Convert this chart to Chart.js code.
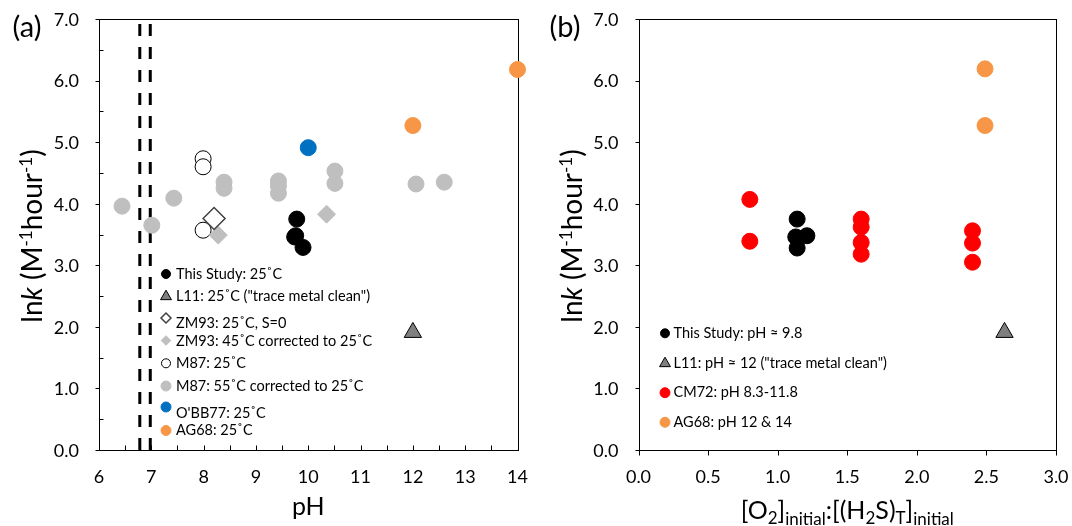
<!DOCTYPE html>
<html>
<head>
<meta charset="utf-8">
<title>lnk vs pH and O2:H2S</title>
<script src="https://cdn.jsdelivr.net/npm/chart.js@4.4.1/dist/chart.umd.min.js"></script>
<style>
  html, body { margin: 0; padding: 0; background: #fff; }
  #wrap { position: relative; width: 1072px; height: 526px; overflow: hidden; }
  .panel { position: absolute; top: 0; width: 536px; height: 526px; }
  #panelA { left: 0; }
  #panelB { left: 536px; }
</style>
</head>
<body>
<div id="wrap">
  <div class="panel" id="panelA"><canvas id="chartA" width="536" height="526"></canvas></div>
  <div class="panel" id="panelB"><canvas id="chartB" width="536" height="526"></canvas></div>
</div>
<script>
// axis ticks
const lnkTicks = [0, 1, 2, 3, 4, 5, 6, 7];
const lnkTickLabels = ['0.0', '1.0', '2.0', '3.0', '4.0', '5.0', '6.0', '7.0'];
const phTicks = [6, 7, 8, 9, 10, 11, 12, 13, 14];
const phTickLabels = ['6', '7', '8', '9', '10', '11', '12', '13', '14'];
const ratioTicks = [0, 0.5, 1, 1.5, 2, 2.5, 3];
const ratioTickLabels = ['0.0', '0.5', '1.0', '1.5', '2.0', '2.5', '3.0'];

// panel (a) - lnk vs pH
const thisStudyPH = [9.78, 9.74, 9.76, 9.90];
const thisStudyLnkA = [3.75, 3.46, 3.48, 3.29];
const l11PH = [12.0];
const l11LnkA = [1.91];
const zm93ColdPH = [8.20];
const zm93ColdLnk = [3.76];
const zm93WarmPH = [8.28, 10.35];
const zm93WarmLnk = [3.49, 3.83];
const m87ColdPH = [7.99, 7.99, 7.99];
const m87ColdLnk = [4.73, 4.60, 3.57];
const m87WarmPH = [6.44, 7.01, 7.43, 8.39, 8.39, 9.43, 9.43, 9.43, 10.51, 10.51, 12.06, 12.60];
const m87WarmLnk = [3.96, 3.65, 4.09, 4.35, 4.25, 4.37, 4.29, 4.17, 4.53, 4.33, 4.32, 4.35];
const obb77PH = [10.0];
const obb77Lnk = [4.91];
const ag68PH = [12.0, 14.0];
const ag68LnkA = [5.27, 6.18];
const dashedPH = [6.78, 6.98];

// panel (b) - lnk vs [O2]:[(H2S)T]
const thisStudyRatio = [1.14, 1.13, 1.21, 1.14];
const thisStudyLnkB = [3.75, 3.46, 3.48, 3.28];
const l11Ratio = [2.63];
const l11LnkB = [1.91];
const cm72Ratio = [0.80, 0.80, 1.60, 1.60, 1.60, 1.60, 2.40, 2.40, 2.40];
const cm72Lnk = [4.07, 3.39, 3.75, 3.62, 3.37, 3.18, 3.56, 3.36, 3.05];
const ag68Ratio = [2.49, 2.49];
const ag68LnkB = [6.19, 5.27];

const FONT = "Lato, 'Liberation Sans', sans-serif";
Chart.defaults.font.family = FONT;
Chart.defaults.color = '#000';

function pts(xs, ys) {
    return xs.map((x, i) => ({ x: x, y: ys[i] }));
}

function dot(label, data, fill, opts) {
    return Object.assign({
        label: label,
        data: data,
        pointStyle: 'circle',
        pointRadius: 8,
        backgroundColor: fill,
        borderColor: fill,
        borderWidth: 1,
        clip: false
    }, opts || {});
}

function vline(x) {
    return {
        type: 'line',
        label: '',
        data: [{ x: x, y: lnkTicks[0] }, { x: x, y: lnkTicks[lnkTicks.length - 1] }],
        borderColor: '#000',
        borderWidth: 3,
        borderDash: [12, 11],
        pointRadius: 0,
        showLine: true,
        clip: false
    };
}

// draw text made of pieces (italic, super/subscripts)
function drawRich(ctx, segs, cx, cy, angle) {
    ctx.save();
    ctx.translate(cx, cy);
    ctx.rotate(angle);
    let total = 0;
    segs.forEach(s => {
        ctx.font = s.font;
        s.w = ctx.measureText(s.t).width;
        total += s.w;
    });
    let xx = -total / 2;
    ctx.textBaseline = 'alphabetic';
    ctx.textAlign = 'left';
    ctx.fillStyle = '#000';
    segs.forEach(s => {
        ctx.font = s.font;
        ctx.fillText(s.t, xx, s.dy || 0);
        xx += s.w;
    });
    ctx.restore();
}

function lnkTitle(size) {
    const big = size + 'px ' + FONT;
    const sup = Math.round(size * 0.62) + 'px ' + FONT;
    const rise = -Math.round(size * 0.36);
    return [
        { t: 'ln', font: big },
        { t: 'k', font: 'italic ' + big },
        { t: ' (M', font: big },
        { t: '-1', font: sup, dy: rise },
        { t: 'hour', font: big },
        { t: '-1', font: sup, dy: rise },
        { t: ')', font: big }
    ];
}

// frame, tick marks, tick labels, axis titles, panel letter
const decorations = {
    id: 'decorations',
    beforeDatasetsDraw(chart, args, o) {
        const { ctx, chartArea: a, scales: { x, y } } = chart;
        ctx.save();
        ctx.strokeStyle = '#000';
        ctx.lineWidth = 1;
        ctx.beginPath();
        const L = Math.round(a.left) + 0.5, B = Math.round(a.bottom) + 0.5;
        for (let v = x.min; v <= x.max + 1e-9; v += o.xStep) {
            const px = Math.round(x.getPixelForValue(v)) + 0.5;
            ctx.moveTo(px, B);
            ctx.lineTo(px, B + o.xLen);
        }
        for (let v = y.min; v <= y.max + 1e-9; v += o.yStep) {
            const py = Math.round(y.getPixelForValue(v)) + 0.5;
            ctx.moveTo(L, py);
            ctx.lineTo(L - o.yLen, py);
        }
        if (o.yMinorStep) {
            for (let v = y.min + o.yMinorStep; v < y.max; v += 2 * o.yMinorStep) {
                const py = Math.round(y.getPixelForValue(v)) + 0.5;
                ctx.moveTo(L, py);
                ctx.lineTo(L - o.yMinorLen, py);
            }
        }
        ctx.stroke();
        ctx.strokeRect(L, Math.round(a.top) + 0.5, Math.round(a.right) - Math.round(a.left), Math.round(a.bottom) - Math.round(a.top));

        // tick labels from the scales
        ctx.font = '18px ' + FONT;
        ctx.fillStyle = '#000';
        ctx.textBaseline = 'middle';
        ctx.textAlign = 'right';
        y.ticks.forEach((t, i) => ctx.fillText(lnkTickLabels[i], a.left - 20, y.getPixelForValue(t.value) + 1));
        ctx.textAlign = 'center';
        x.ticks.forEach((t, i) => ctx.fillText(o.xLabels[i], x.getPixelForValue(t.value), a.bottom + 27));
        ctx.restore();

        drawRich(ctx, lnkTitle(28), a.left - 57, (a.top + a.bottom) / 2 + 1.5, -Math.PI / 2);
        drawRich(ctx, o.xTitle, (a.left + a.right) / 2, o.xTitleY, 0);

        ctx.save();
        ctx.font = '29px ' + FONT;
        ctx.fillStyle = '#000';
        ctx.textAlign = 'center';
        ctx.textBaseline = 'middle';
        ctx.fillText(o.panel, o.panelX, 28);
        ctx.restore();
    },
    afterDatasetsDraw(chart, args, o) {
        const ctx = chart.ctx;
        o.legend.forEach(e => {
            const ds = chart.data.datasets[e.ds];
            ctx.save();
            ctx.fillStyle = ds.backgroundColor;
            ctx.strokeStyle = ds.borderColor;
            ctx.lineWidth = ds.borderWidth;
            Chart.helpers.drawPoint(ctx, {
                pointStyle: ds.pointStyle,
                radius: e.r,
                rotation: 0,
                borderWidth: ds.borderWidth
            }, e.mx, e.my);
            ctx.restore();
            ctx.save();
            ctx.font = '14.5px ' + FONT;
            ctx.fillStyle = '#000';
            ctx.textAlign = 'left';
            ctx.textBaseline = 'middle';
            ctx.fillText(ds.label, o.textX, e.ty);
            ctx.restore();
        });
    }
};

function scales(xTicks, yWidth) {
    return {
        x: {
            type: 'linear',
            min: xTicks[0],
            max: xTicks[xTicks.length - 1],
            afterBuildTicks: s => { s.ticks = xTicks.map(v => ({ value: v })); },
            afterFit: s => { s.height = 76; },
            ticks: { display: false },
            grid: { display: false, drawTicks: false },
            border: { display: false }
        },
        y: {
            type: 'linear',
            min: lnkTicks[0],
            max: lnkTicks[lnkTicks.length - 1],
            afterBuildTicks: s => { s.ticks = lnkTicks.map(v => ({ value: v })); },
            afterFit: s => { s.width = yWidth; },
            ticks: { display: false },
            grid: { display: false, drawTicks: false },
            border: { display: false }
        }
    };
}

const SUPER = '˚';

new Chart(document.getElementById('chartA'), {
    type: 'scatter',
    data: {
        datasets: [
            dot('This Study: 25' + SUPER + 'C', pts(thisStudyPH, thisStudyLnkA), '#000000'),
            dot('L11: 25' + SUPER + 'C ("trace metal clean")', pts(l11PH, l11LnkA), '#7f7f7f',
                { pointStyle: 'triangle', pointRadius: 10, borderColor: '#000' }),
            dot('ZM93: 25' + SUPER + 'C, S=0', pts(zm93ColdPH, zm93ColdLnk), '#ffffff',
                { pointStyle: 'rectRot', pointRadius: 11, borderColor: '#404040', borderWidth: 1.5 }),
            dot('ZM93: 45' + SUPER + 'C corrected to 25' + SUPER + 'C', pts(zm93WarmPH, zm93WarmLnk), '#bfbfbf',
                { pointStyle: 'rectRot', pointRadius: 9 }),
            dot('M87: 25' + SUPER + 'C', pts(m87ColdPH, m87ColdLnk), '#ffffff', { borderColor: '#000' }),
            dot('M87: 55' + SUPER + 'C corrected to 25' + SUPER + 'C', pts(m87WarmPH, m87WarmLnk), '#bfbfbf'),
            dot("O'BB77: 25" + SUPER + 'C', pts(obb77PH, obb77Lnk), '#0070c0'),
            dot('AG68: 25' + SUPER + 'C', pts(ag68PH, ag68LnkA), '#f79646'),
            vline(dashedPH[0]),
            vline(dashedPH[1])
        ]
    },
    options: {
        responsive: false,
        animation: false,
        events: [],
        layout: { padding: { left: 0, top: 19, right: 18.5, bottom: 0 } },
        scales: scales(phTicks, 99),
        plugins: {
            legend: { display: false },
            tooltip: { enabled: false },
            decorations: {
                xStep: 0.5, xLen: -5,
                yStep: 1, yLen: 4,
                yMinorStep: 0.5, yMinorLen: -4,
                xLabels: phTickLabels,
                xTitle: [{ t: 'pH', font: '25px ' + FONT }],
                xTitleY: 515,
                panel: '(a)', panelX: 27,
                textX: 176,
                legend: [
                    { ds: 0, r: 4.5, mx: 166, my: 274, ty: 274 },
                    { ds: 1, r: 6.3, mx: 166, my: 296.5, ty: 296 },
                    { ds: 2, r: 5, mx: 166, my: 318, ty: 323.5 },
                    { ds: 3, r: 4.8, mx: 166, my: 340.5, ty: 341 },
                    { ds: 4, r: 4.5, mx: 166, my: 363.3, ty: 363.3 },
                    { ds: 5, r: 5, mx: 166, my: 386, ty: 386 },
                    { ds: 6, r: 5, mx: 166, my: 407, ty: 413 },
                    { ds: 7, r: 5, mx: 166, my: 430.5, ty: 430.5 }
                ]
            }
        }
    },
    plugins: [decorations]
});

new Chart(document.getElementById('chartB'), {
    type: 'scatter',
    data: {
        datasets: [
            dot('This Study: pH ≈ 9.8', pts(thisStudyRatio, thisStudyLnkB), '#000000'),
            dot('L11: pH ≈ 12 ("trace metal clean")', pts(l11Ratio, l11LnkB), '#7f7f7f',
                { pointStyle: 'triangle', pointRadius: 10, borderColor: '#000' }),
            dot('CM72: pH 8.3-11.8', pts(cm72Ratio, cm72Lnk), '#ff0000'),
            dot('AG68: pH 12 & 14', pts(ag68Ratio, ag68LnkB), '#f79646')
        ]
    },
    options: {
        responsive: false,
        animation: false,
        events: [],
        layout: { padding: { left: 0, top: 19, right: 16, bottom: 0 } },
        scales: scales(ratioTicks, 102.5),
        plugins: {
            legend: { display: false },
            tooltip: { enabled: false },
            decorations: {
                xStep: 0.5, xLen: 5,
                yStep: 1, yLen: 4,
                yMinorStep: 0,
                xLabels: ratioTickLabels,
                xTitle: [
                    { t: '[O', font: '25px ' + FONT },
                    { t: '2', font: '17px ' + FONT, dy: 5 },
                    { t: ']', font: '25px ' + FONT },
                    { t: 'initial', font: '17px ' + FONT, dy: 6 },
                    { t: ':[(H', font: '25px ' + FONT },
                    { t: '2', font: '17px ' + FONT, dy: 5 },
                    { t: 'S)', font: '25px ' + FONT },
                    { t: 'T', font: '17px ' + FONT, dy: 5 },
                    { t: ']', font: '25px ' + FONT },
                    { t: 'initial', font: '17px ' + FONT, dy: 6 }
                ],
                xTitleY: 519,
                panel: '(b)', panelX: 29,
                textX: 137.5,
                legend: [
                    { ds: 0, r: 4.5, mx: 129, my: 333.3, ty: 333.3 },
                    { ds: 1, r: 6.3, mx: 129, my: 363.5, ty: 363.3 },
                    { ds: 2, r: 5, mx: 129, my: 392.7, ty: 392.7 },
                    { ds: 3, r: 5, mx: 129, my: 422.3, ty: 422.3 }
                ]
            }
        }
    },
    plugins: [decorations]
});
</script>
</body>
</html>
